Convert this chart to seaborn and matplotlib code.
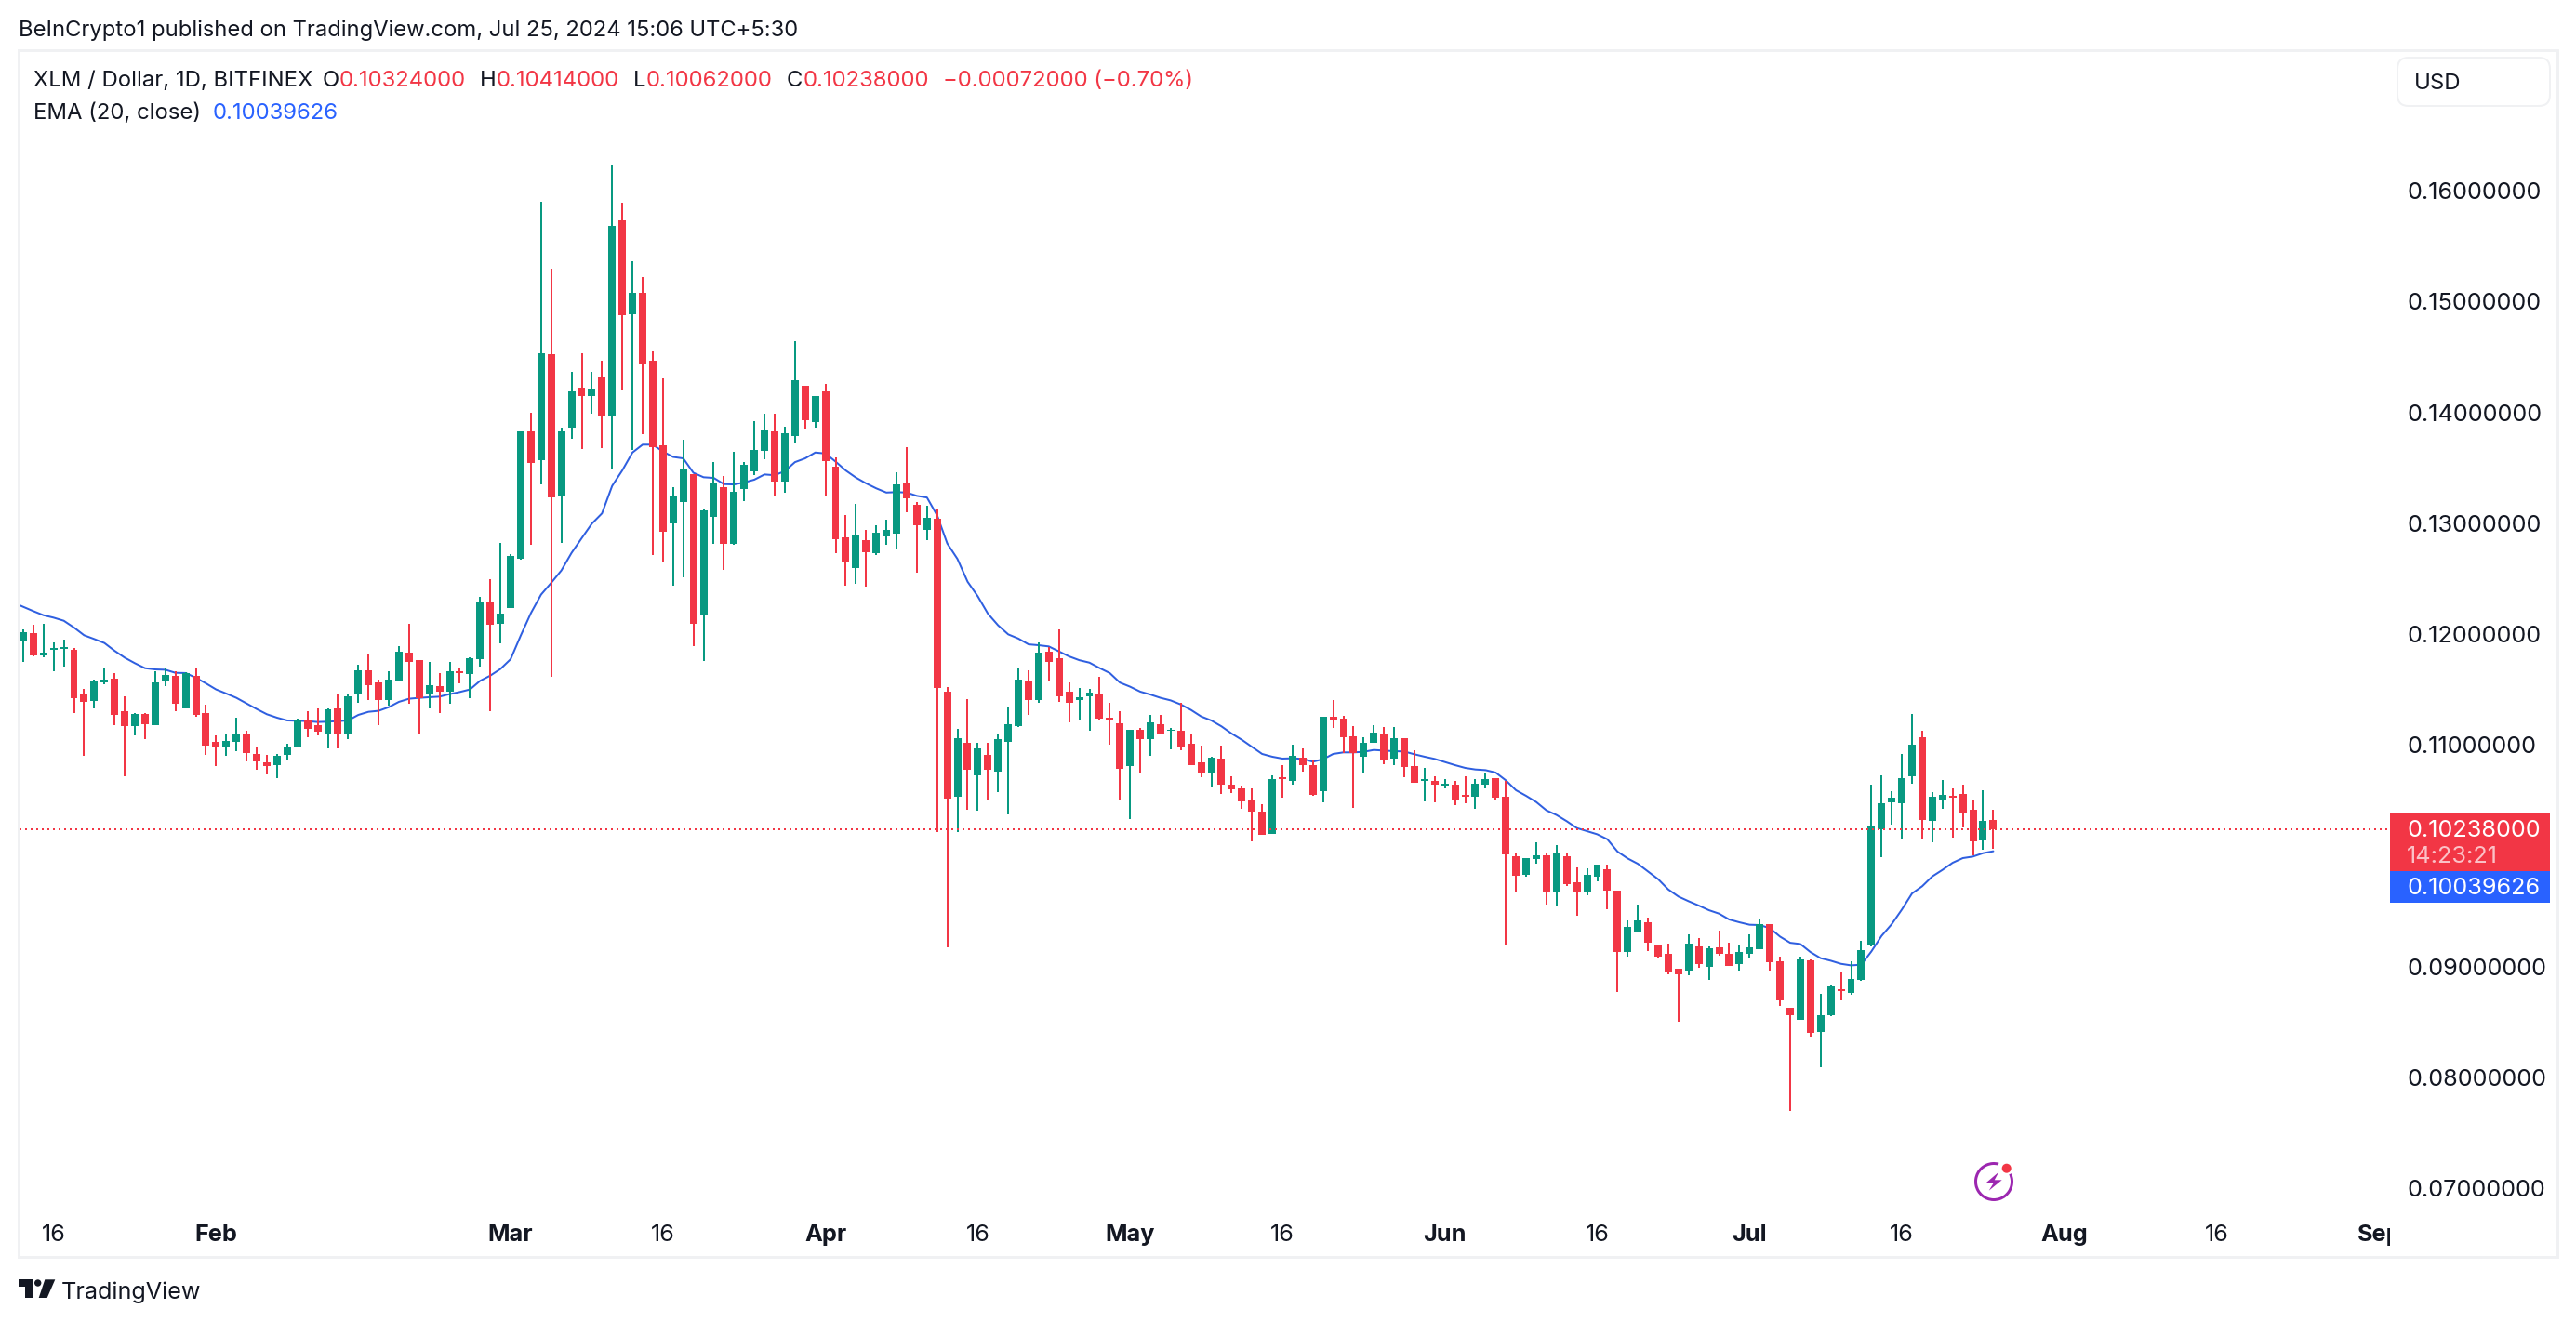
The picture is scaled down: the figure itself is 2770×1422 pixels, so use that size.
import matplotlib
matplotlib.use("Agg")
import matplotlib.pyplot as plt
from matplotlib.patches import Arc, Circle, FancyBboxPatch, Polygon, Rectangle
import numpy as np
import pandas as pd
import seaborn as sns

# daily candles from 2024-01-13 to 2024-07-25, prices in 1e-5 dollars
opens_e5 = [
    11941, 12008, 11807, 11860, 11869, 11857, 11463, 11399, 11564, 11597, 11304, 11170, 11279, 11178, 11581,
    11622, 11332, 11622, 11287, 11027, 10985, 11027, 11094, 10918, 10842, 10817, 10910, 10977, 11220, 11178,
    11102, 11329, 11102, 11463, 11673, 11564, 11404, 11581, 11832, 11765, 11455, 11530, 11480, 11664, 11639,
    11773, 12294, 12092, 12235, 12679, 13828, 13567, 14526, 13244, 13865, 14222, 14147, 14324, 13973, 15733,
    14886, 15078, 14467, 13703, 12999, 13191, 13440, 12176, 13058, 13325, 12813, 13309, 13467, 13650, 13828,
    13377, 13787, 14240, 13911, 14188, 13513, 12873, 12592, 12847, 12730, 12880, 12910, 13360, 13165, 12940,
    13041, 11480, 10536, 11019, 10727, 10910, 10761, 11023, 11169, 11570, 11401, 11839, 11783, 11480, 11401,
    11435, 11454, 11247, 11195, 10806, 11135, 11049, 11188, 11124, 11128, 11012, 10843, 10750, 10876, 10641,
    10607, 10507, 10398, 10196, 10708, 10674, 10884, 10817, 10582, 11253, 11236, 11077, 10893, 11018, 11102,
    10876, 11060, 10809, 10674, 10674, 10632, 10641, 10549, 10532, 10641, 10699, 10532, 9995, 9827, 9970,
    10003, 9668, 9995, 9760, 9676, 9810, 9877, 9684, 9131, 9315, 9399, 9189, 9114, 8980, 8963,
    9181, 8996, 9173, 9114, 9022, 9114, 9156, 9382, 9047, 8627, 8518, 9055, 8409, 8560, 8795,
    8762, 8879, 9190, 10238, 10481, 10473, 10716, 11068, 10313, 10506, 10540, 10557, 10414, 10137, 10324,
]
highs_e5 = [
    12045, 12081, 12092, 11927, 11947, 11871, 11502, 11586, 11690, 11648, 11435, 11287, 11287, 11664, 11695,
    11662, 11653, 11690, 11360, 11083, 11100, 11242, 11128, 10985, 10910, 10918, 11010, 11234, 11304, 11329,
    11329, 11455, 11463, 11723, 11815, 11589, 11664, 11891, 12092, 11765, 11748, 11648, 11748, 11698, 11790,
    12335, 12495, 12822, 12719, 13828, 13995, 15901, 15296, 13859, 14364, 14532, 14364, 14470, 16227, 15892,
    15364, 15221, 14548, 14306, 13322, 13750, 13446, 13135, 13548, 13424, 13641, 13548, 13917, 13992, 13986,
    13874, 14640, 14240, 14147, 14253, 13592, 13071, 13172, 12937, 12985, 13030, 13457, 13689, 13195, 13154,
    13120, 11525, 11143, 11412, 11019, 11019, 11102, 11345, 11689, 11674, 11925, 11880, 12045, 11562, 11510,
    11506, 11618, 11382, 11300, 11135, 11154, 11274, 11266, 11150, 11382, 11098, 10993, 10893, 10993, 10716,
    10632, 10607, 10465, 10725, 10817, 11002, 10968, 10859, 11253, 11404, 11262, 11169, 11069, 11178, 11161,
    11161, 11060, 10951, 10792, 10716, 10691, 10674, 10716, 10691, 10750, 10699, 10674, 10020, 9978, 10121,
    10020, 10096, 10029, 9894, 9886, 9919, 9919, 9684, 9416, 9558, 9441, 9198, 9206, 8980, 9290,
    9256, 9181, 9323, 9214, 9189, 9290, 9433, 9382, 9089, 8627, 9089, 9064, 8753, 8837, 8946,
    9047, 9231, 10641, 10725, 10582, 10917, 11278, 11127, 10574, 10683, 10607, 10641, 10506, 10590, 10414,
]
lows_e5 = [
    11751, 11799, 11793, 11667, 11709, 11290, 10904, 11332, 11550, 11178, 10719, 11086, 11052, 11178, 11533,
    11304, 11332, 11256, 10910, 10812, 10904, 10946, 10854, 10778, 10736, 10703, 10870, 10977, 11069, 11086,
    10968, 10968, 11052, 11379, 11404, 11178, 11354, 11572, 11371, 11102, 11329, 11287, 11371, 11555, 11421,
    11706, 11304, 11919, 12232, 12673, 12803, 13352, 11614, 12822, 13762, 13672, 13992, 13678, 13486, 14209,
    13663, 13806, 12716, 12648, 12437, 12515, 11894, 11754, 12816, 12580, 12803, 13197, 13436, 13579, 13241,
    13278, 13731, 13855, 13865, 13253, 12727, 12438, 12457, 12431, 12716, 12809, 12768, 13101, 12551, 12850,
    10210, 9169, 10210, 10416, 10409, 10495, 10570, 10375, 11158, 11270, 11375, 11573, 11386, 11203, 11225,
    11131, 11225, 11004, 10495, 10334, 10746, 10903, 11098, 10959, 10955, 10813, 10712, 10616, 10557, 10565,
    10423, 10129, 10188, 10196, 10523, 10641, 10758, 10540, 10482, 11153, 10926, 10431, 10750, 11018, 10825,
    10817, 10708, 10658, 10490, 10482, 10607, 10456, 10473, 10423, 10607, 10498, 9190, 9668, 9811, 9928,
    9559, 9542, 9727, 9458, 9642, 9768, 9516, 8770, 9089, 9315, 9139, 9080, 8929, 8502, 8921,
    8988, 8879, 9097, 9005, 8963, 9072, 9156, 8963, 8644, 7696, 8518, 8367, 8090, 8552, 8694,
    8745, 8870, 9184, 9986, 10280, 10146, 10649, 10146, 10120, 10423, 10163, 10255, 10003, 10053, 10062,
]
closes_e5 = [
    12017, 11807, 11832, 11874, 11883, 11424, 11390, 11572, 11586, 11273, 11170, 11279, 11189, 11564, 11631,
    11374, 11648, 11270, 10996, 10977, 11035, 11094, 10926, 10851, 10809, 10901, 10977, 11220, 11144, 11119,
    11321, 11102, 11438, 11673, 11539, 11404, 11589, 11841, 11748, 11424, 11539, 11480, 11664, 11648, 11782,
    12285, 12084, 12182, 12707, 13828, 13545, 14532, 13235, 13828, 14188, 14147, 14216, 13973, 15684, 14880,
    15078, 14445, 13688, 12924, 13241, 13492, 12092, 13114, 13365, 12816, 13281, 13526, 13657, 13843, 13377,
    13812, 14290, 13933, 14147, 13564, 12858, 12648, 12888, 12742, 12914, 12940, 13352, 13229, 12978, 13045,
    11510, 10517, 11064, 10772, 10967, 10772, 11053, 11184, 11588, 11401, 11832, 11749, 11442, 11382, 11431,
    11472, 11233, 11218, 10787, 11135, 11049, 11203, 11098, 11139, 10985, 10813, 10750, 10884, 10641, 10599,
    10490, 10398, 10188, 10691, 10691, 10901, 10817, 10549, 11253, 11220, 11069, 10926, 11018, 11111, 10859,
    11060, 10800, 10658, 10691, 10641, 10652, 10507, 10532, 10649, 10691, 10523, 10012, 9819, 9978, 10003,
    9676, 10020, 9743, 9676, 9827, 9919, 9684, 9131, 9357, 9416, 9214, 9089, 8954, 8929, 9206,
    9022, 9164, 9114, 9005, 9131, 9173, 9382, 9038, 8694, 8560, 9064, 8401, 8560, 8820, 8778,
    8887, 9148, 10272, 10473, 10523, 10699, 11001, 10322, 10532, 10548, 10523, 10381, 10129, 10313, 10238,
]
# EMA(20), starts one day before the first candle
ema_e5 = [
    12285, 12246, 12207, 12170, 12148, 12120, 12059, 11989, 11955, 11919, 11849, 11787, 11737, 11692, 11681,
    11678, 11650, 11648, 11606, 11555, 11500, 11463, 11424, 11374, 11323, 11276, 11245, 11220, 11217, 11214,
    11206, 11209, 11214, 11220, 11270, 11298, 11307, 11340, 11388, 11416, 11424, 11430, 11435, 11458, 11477,
    11500, 11578, 11625, 11685, 11773, 11987, 12189, 12356, 12462, 12574, 12732, 12865, 12996, 13089, 13337,
    13477, 13638, 13709, 13709, 13647, 13598, 13585, 13455, 13415, 13409, 13353, 13350, 13368, 13393, 13440,
    13433, 13470, 13551, 13585, 13638, 13629, 13556, 13476, 13412, 13360, 13315, 13277, 13281, 13277, 13247,
    13232, 13071, 12817, 12678, 12472, 12341, 12184, 12079, 11997, 11959, 11907, 11899, 11888, 11843, 11798,
    11764, 11742, 11693, 11648, 11562, 11525, 11480, 11454, 11424, 11401, 11364, 11315, 11256, 11220, 11167,
    11102, 11046, 10982, 10918, 10893, 10876, 10879, 10873, 10848, 10870, 10918, 10932, 10932, 10937, 10954,
    10948, 10943, 10940, 10915, 10893, 10873, 10845, 10817, 10792, 10778, 10772, 10750, 10680, 10591, 10540,
    10484, 10409, 10367, 10311, 10249, 10221, 10193, 10148, 10037, 9975, 9927, 9858, 9788, 9695, 9631,
    9589, 9550, 9508, 9477, 9424, 9399, 9377, 9374, 9346, 9270, 9214, 9203, 9130, 9075, 9052,
    9024, 9010, 9016, 9136, 9276, 9382, 9514, 9659, 9724, 9813, 9872, 9936, 9978, 9992, 10023,
    10040,
]

price_ticks = [0.07, 0.08, 0.09, 0.11, 0.12, 0.13, 0.14, 0.15, 0.16]
time_dates = ["2024-01-16", "2024-02-01", "2024-03-01", "2024-03-16", "2024-04-01", "2024-04-16", "2024-05-01",
              "2024-05-16", "2024-06-01", "2024-06-16", "2024-07-01", "2024-07-16", "2024-08-01", "2024-08-16",
              "2024-09-01"]
time_labels = ["16", "Feb", "Mar", "16", "Apr", "16", "May", "16", "Jun", "16", "Jul", "16", "Aug", "16", "Sep"]

GREEN = "#089981"
RED = "#F23645"
BLUE = "#2962FF"
LINE_BLUE = "#2F5FE0"
INK = "#131722"
FRAME = "#F0F1F3"

W, H = 2770, 1422
DPI = 100
FS = 17.2
SCALE_FS = 18.2


def px(size):
    return size * 72 / DPI


sns.set_theme(style="white")
plt.rcParams["font.family"] = ["Inter", "DejaVu Sans"]

start = pd.Timestamp("2024-01-13")
df = pd.DataFrame({"open": opens_e5, "high": highs_e5, "low": lows_e5, "close": closes_e5}) / 1e5
df["day"] = np.arange(len(df))
df["color"] = np.where(df["close"] >= df["open"], GREEN, RED)
ema = pd.DataFrame({"day": np.arange(len(ema_e5)) - 1, "value": np.array(ema_e5) / 1e5})

fig = plt.figure(figsize=(W / DPI, H / DPI), dpi=DPI, facecolor="white")

# main chart, box runs from the left frame to the price scale
left, right, top, bottom = 21, 2570, 54, 1352
ax = fig.add_axes([left / W, 1 - bottom / H, (right - left) / W, (bottom - top) / H])
ax.set_xlim((left - 24.9) / 10.92, (right - 24.9) / 10.92)
ax.set_ylim(0.07 + (1278 - bottom) / 11920, 0.07 + (1278 - top) / 11920)
ax.set_facecolor("white")
for spine in ax.spines.values():
    spine.set_visible(False)

sns.lineplot(data=ema, x="day", y="value", color=LINE_BLUE, linewidth=px(2), estimator=None, ax=ax, zorder=1)
ax.vlines(df["day"], df["low"], df["high"], colors=df["color"], linewidth=px(2), zorder=2)
ax.bar(df["day"], (df["close"] - df["open"]).abs(), bottom=df[["open", "close"]].min(axis=1), width=0.73,
       color=df["color"], linewidth=0, zorder=2)
ax.axhline(df["close"].iloc[-1], color=RED, linewidth=px(2), dashes=(1, 2), zorder=3)
ax.set_xlabel("")
ax.set_ylabel("")

ax.yaxis.tick_right()
ax.set_yticks(price_ticks)
ax.set_yticklabels([f"{t:.8f}" for t in price_ticks])
ax.tick_params(axis="y", length=0, pad=px(18), labelsize=SCALE_FS, labelcolor=INK)

ax.set_xticks([(pd.Timestamp(d) - start).days for d in time_dates])
ax.set_xticklabels(time_labels)
ax.tick_params(axis="x", length=0, direction="in", pad=-px(35), labelsize=SCALE_FS, labelcolor=INK)
for label in ax.get_xticklabels():
    if not label.get_text().isdigit():
        label.set_fontweight("bold")
    label.set_clip_box(ax.bbox)
    label.set_clip_on(True)

# everything around the chart is laid out in pixels on a full-figure overlay
ov = fig.add_axes([0, 0, 1, 1], facecolor="none")
ov.set_xlim(0, W)
ov.set_ylim(H, 0)
ov.axis("off")

ov.add_patch(Rectangle((20, 54), 2730, 1298, fill=False, edgecolor=FRAME, linewidth=px(3)))
ov.add_patch(FancyBboxPatch((2590, 74), 140, 28, boxstyle="round,pad=12,rounding_size=12", facecolor="white",
                            edgecolor=FRAME, linewidth=px(2)))
ov.text(2596, 90, "USD", fontsize=FS, color=INK, va="center")

ov.text(20, 33, "BeInCrypto1 published on TradingView.com, Jul 25, 2024 15:06 UTC+5:30", fontsize=17.1, color=INK,
        va="center")

# legend rows
legend_row = [(36, "XLM / Dollar, 1D, BITFINEX", INK), (347, "O", INK), (365, "0.10324000", RED), (516, "H", INK),
              (534, "0.10414000", RED), (681, "L", INK), (695, "0.10062000", RED), (846, "C", INK),
              (864, "0.10238000", RED), (1014, "\u22120.00072000 (\u22120.70%)", RED)]
for x, s, c in legend_row:
    ov.text(x, 87, s, fontsize=FS, color=c, va="center")
ov.text(36, 122, "EMA (20, close)", fontsize=FS, color=INK, va="center")
ov.text(229, 122, "0.10039626", fontsize=FS, color=BLUE, va="center")

# price tags on the scale
ov.add_patch(Rectangle((2570, 875), 172, 62, facecolor=RED, edgecolor="none"))
ov.add_patch(Rectangle((2570, 937), 172, 34, facecolor=BLUE, edgecolor="none"))
ov.text(2588, 894, "0.10238000", fontsize=SCALE_FS, color="white", va="center")
ov.text(2588, 922, "14:23:21", fontsize=SCALE_FS, color="#FBC1C7", va="center")
ov.text(2588, 956, "0.10039626", fontsize=SCALE_FS, color="white", va="center")

# purple bolt badge
PURPLE = "#9C27B0"
ov.add_patch(Arc((2144, 1271), 39, 39, theta1=-25, theta2=285, color=PURPLE, linewidth=px(3)))
ov.add_patch(Polygon([(2149.3, 1260.7), (2136, 1272), (2144, 1272), (2138.7, 1280.7), (2152.7, 1269.3),
                      (2144.7, 1269.3)], closed=True, facecolor=PURPLE, edgecolor="none"))
ov.add_patch(Circle((2157.7, 1256.7), 5, facecolor=RED, edgecolor="none"))

# TradingView logo
ov.add_patch(Polygon([(20, 1376), (35, 1376), (35, 1396), (26.7, 1396), (26.7, 1384), (20, 1384)], closed=True,
                     facecolor=INK, edgecolor="none"))
ov.add_patch(Circle((40.7, 1380), 3.7, facecolor=INK, edgecolor="none"))
ov.add_patch(Polygon([(48.3, 1376.3), (59.3, 1376.3), (50.7, 1396), (41.7, 1396)], closed=True, facecolor=INK,
                     edgecolor="none"))
ov.text(66, 1390, "TradingView", fontsize=18.1, color=INK, va="center")

fig.savefig("out.png", dpi=DPI, facecolor="white")
